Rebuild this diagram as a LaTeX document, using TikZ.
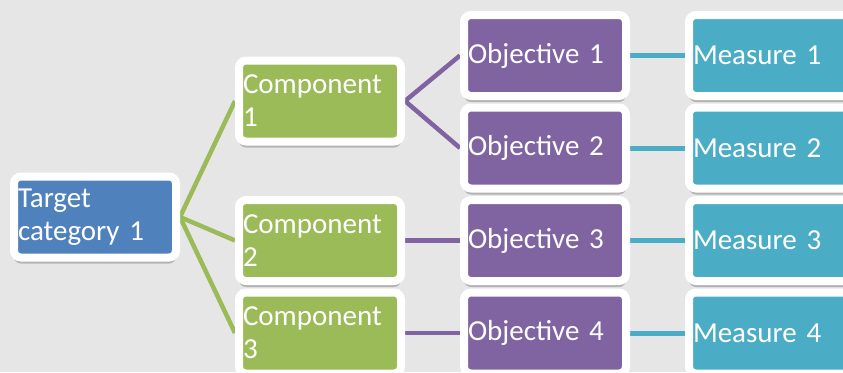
\documentclass[tikz,border=0pt]{standalone}
\usepackage{fontspec}
\setmainfont{Carlito}
\usetikzlibrary{shadows,backgrounds}
\definecolor{bgc}{HTML}{E6E6E6}
\definecolor{tblue}{HTML}{4F81BD}
\definecolor{tgreen}{HTML}{9BBB59}
\definecolor{tpurple}{HTML}{8064A2}
\definecolor{tteal}{HTML}{4BACC6}
\begin{document}
\begin{tikzpicture}[x=1pt,y=-1pt,
  box/.style={draw=white, line width=8pt, rounded corners=7pt, text=white,
    align=left, text width=154pt, inner xsep=4pt, inner ysep=0pt,
    minimum height=81pt, font=\fontsize{29}{33}\selectfont,
    drop shadow={shadow xshift=0pt, shadow yshift=-6pt, opacity=0.22, fill=black}},
  tbox/.style={box, fill=tblue},
  cbox/.style={box, fill=tgreen},
  obox/.style={box, fill=tpurple},
  mbox/.style={box, fill=tteal},
  gline/.style={draw=tgreen, line width=4.5pt},
  pline/.style={draw=tpurple, line width=4.5pt},
  bline/.style={draw=tteal, line width=5pt}]
\useasboundingbox (0,0) rectangle (843,372);
\node[tbox] (t) at (95,217) {Target\\category 1};
\node[cbox] (c1) at (320,101) {Component\\1};
\node[cbox] (c2) at (320,240.5) {Component\\2};
\node[cbox] (c3) at (320,333) {Component\\3};
\node[obox] (o1) at (545,55.5) {Objective 1};
\node[obox] (o2) at (545,148) {Objective 2};
\node[obox] (o3) at (545,240.5) {Objective 3};
\node[obox] (o4) at (545,333) {Objective 4};
\node[mbox] (m1) at (770,55.5) {Measure 1};
\node[mbox] (m2) at (770,148) {Measure 2};
\node[mbox] (m3) at (770,240.5) {Measure 3};
\node[mbox] (m4) at (770,333) {Measure 4};
\begin{scope}[on background layer]
  \fill[bgc] (0,0) rectangle (843,372);
  \draw[gline] (t.east) -- (c1.west);
  \draw[gline] (t.east) -- (c2.west);
  \draw[gline] (t.east) -- (c3.west);
  \draw[pline] (c1.east) -- (o1.west);
  \draw[pline] (c1.east) -- (o2.west);
  \draw[pline] (c2.east) -- (o3.west);
  \draw[pline] (c3.east) -- (o4.west);
  \draw[bline] (o1.east) -- (m1.west);
  \draw[bline] (o2.east) -- (m2.west);
  \draw[bline] (o3.east) -- (m3.west);
  \draw[bline] (o4.east) -- (m4.west);
\end{scope}
\end{tikzpicture}
\end{document}
